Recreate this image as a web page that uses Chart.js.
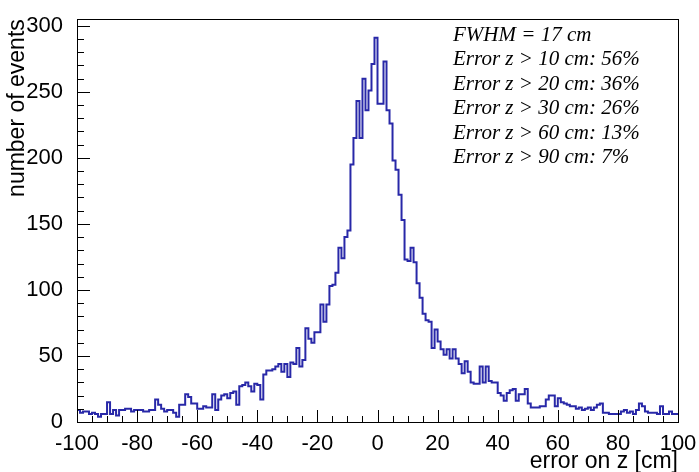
<!DOCTYPE html>
<html>
<head>
<meta charset="utf-8">
<script src="https://cdn.jsdelivr.net/npm/chart.js@4/dist/chart.umd.min.js"></script>
<style>
  html, body { margin: 0; padding: 0; background: #fff; }
  #wrap { width: 699px; height: 472px; }
</style>
</head>
<body>
<div id="wrap"><canvas id="histo" width="699" height="472"></canvas></div>
<script>
// binning of the histogram: 200 bins of 1 cm from -100 to 100
const binStart = -100;
const binWidth = 1;

// counts per bin (left to right)
const counts = [
  9, 9, 7, 8, 8, 6, 7, 6, 4, 6,
  6, 15, 6, 9, 5, 9, 9, 10, 10, 8,
  9, 9, 9, 8, 8, 9, 9, 17, 13, 10,
  8, 9, 9, 7, 4, 13, 13, 21, 19, 14,
  14, 10, 10, 12, 11, 11, 21, 9, 17, 20,
  21, 18, 22, 23, 13, 27, 28, 30, 27, 23,
  29, 28, 17, 36, 39, 39, 40, 42, 44, 38,
  44, 34, 45, 44, 56, 42, 47, 71, 63, 60,
  68, 68, 89, 76, 89, 103, 104, 113, 132, 124,
  140, 145, 195, 215, 243, 215, 260, 236, 251, 271,
  291, 241, 241, 273, 236, 226, 198, 191, 172, 153,
  123, 122, 132, 121, 105, 94, 82, 77, 76, 56,
  70, 61, 55, 51, 55, 48, 55, 48, 44, 37,
  46, 38, 30, 29, 29, 42, 30, 42, 31, 30,
  30, 22, 20, 16, 22, 24, 25, 16, 21, 21,
  25, 14, 11, 11, 11, 12, 12, 17, 20, 20,
  12, 18, 15, 14, 13, 12, 12, 10, 11, 9,
  10, 11, 9, 11, 13, 14, 7, 7, 6, 6,
  6, 6, 8, 9, 7, 8, 6, 9, 14, 12,
  8, 7, 7, 7, 6, 12, 6, 6, 8, 6
];

const xTicks = [-100, -80, -60, -40, -20, 0, 20, 40, 60, 80, 100];
const yTicks = [0, 50, 100, 150, 200, 250, 300];

const statLines = [
  'FWHM = 17 cm',
  'Error z > 10 cm: 56%',
  'Error z > 20 cm: 36%',
  'Error z > 30 cm: 26%',
  'Error z > 60 cm: 13%',
  'Error z > 90 cm: 7%'
];

const lineColor = '#2828a8';
const sansFont = '"Liberation Sans", Arial, Helvetica, sans-serif';

// step outline: one point per bin left edge, plus the closing right edge
const points = counts.map((c, i) => ({ x: binStart + i * binWidth, y: c }));
points.push({ x: binStart + counts.length * binWidth, y: counts[counts.length - 1] });

// ROOT-like frame with ticks pointing inward, plus the stats text
const rootFrame = {
  id: 'rootFrame',
  afterDraw(chart) {
    const { ctx, chartArea: area, scales } = chart;
    const xs = scales.x, ys = scales.y;
    ctx.save();
    ctx.strokeStyle = '#000';
    ctx.lineWidth = 1;
    ctx.strokeRect(Math.round(area.left) + 0.5, Math.round(area.top) + 0.5,
      Math.round(area.right - area.left), Math.round(area.bottom - area.top));

    ctx.beginPath();
    for (let v = -100; v <= 100; v += 5) {
      const px = Math.round(xs.getPixelForValue(v)) + 0.5;
      const len = v % 20 === 0 ? 12 : 6;
      ctx.moveTo(px, area.bottom);
      ctx.lineTo(px, area.bottom - len);
    }
    for (let v = 0; v <= 300; v += 10) {
      const py = Math.round(ys.getPixelForValue(v)) + 0.5;
      const len = v % 50 === 0 ? 13 : 7;
      ctx.moveTo(area.left, py);
      ctx.lineTo(area.left + len, py);
    }
    ctx.stroke();

    ctx.fillStyle = '#000';
    ctx.font = 'italic 21px "Liberation Serif", "Times New Roman", serif';
    ctx.textAlign = 'left';
    ctx.textBaseline = 'alphabetic';
    statLines.forEach((t, i) => ctx.fillText(t, 453, 41 + i * 24.4));
    ctx.restore();
  }
};

new Chart(document.getElementById('histo'), {
  type: 'line',
  data: {
    datasets: [{
      data: points,
      stepped: 'after',
      borderColor: lineColor,
      borderWidth: 2,
      pointRadius: 0,
      fill: false
    }]
  },
  options: {
    responsive: false,
    animation: false,
    devicePixelRatio: 1,
    layout: { padding: { top: 14, right: 21, left: 0, bottom: 0 } },
    plugins: { legend: { display: false }, tooltip: { enabled: false } },
    scales: {
      x: {
        type: 'linear',
        min: -100,
        max: 100,
        grid: { display: false },
        border: { display: false },
        afterBuildTicks: s => { s.ticks = xTicks.map(v => ({ value: v })); },
        afterFit: s => { s.height = 50; },
        ticks: {
          autoSkip: false,
          maxRotation: 0,
          padding: 1,
          color: '#000',
          font: { family: sansFont, size: 22 }
        },
        title: {
          display: true,
          text: 'error on z [cm]',
          align: 'end',
          color: '#000',
          font: { family: sansFont, size: 23, lineHeight: 1 },
          padding: { top: 0, bottom: -1 }
        }
      },
      y: {
        min: 0,
        max: 305,
        grid: { display: false },
        border: { display: false },
        afterBuildTicks: s => { s.ticks = yTicks.map(v => ({ value: v })); },
        afterFit: s => { s.width = 77; },
        ticks: {
          autoSkip: false,
          padding: 6,
          color: '#000',
          font: { family: sansFont, size: 22 }
        },
        title: {
          display: true,
          text: 'number of events',
          align: 'end',
          color: '#000',
          font: { family: sansFont, size: 23 },
          padding: { top: 4, bottom: 0 }
        }
      }
    }
  },
  plugins: [rootFrame]
});
</script>
</body>
</html>
